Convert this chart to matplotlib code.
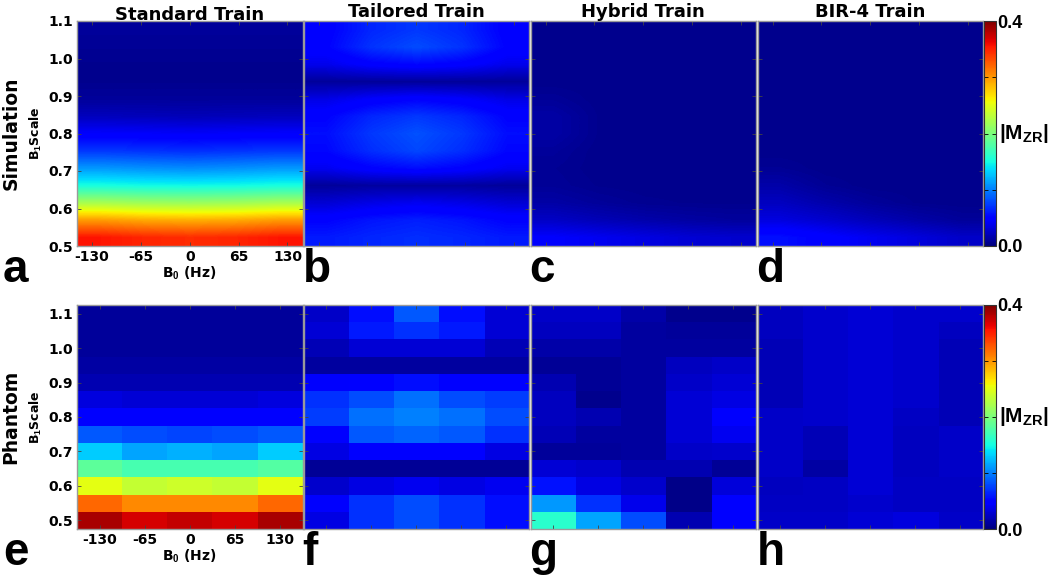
import matplotlib

matplotlib.use("Agg")
import matplotlib.pyplot as plt
import numpy as np
from matplotlib.ticker import FixedLocator

plt.rcParams["font.family"] = ["DejaVu Sans"]
plt.rcParams["font.weight"] = "bold"
plt.rcParams["axes.unicode_minus"] = False
plt.rcParams["mathtext.fontset"] = "custom"
plt.rcParams["mathtext.rm"] = "Liberation Sans:bold"
plt.rcParams["mathtext.bf"] = "Liberation Sans:bold"
plt.rcParams["mathtext.it"] = "Liberation Sans:bold"

titles = ["Standard Train", "Tailored Train", "Hybrid Train", "BIR-4 Train"]
row_names = ["Simulation", "Phantom"]
panel_letters = [["a", "b", "c", "d"], ["e", "f", "g", "h"]]
b0_ticks = [-130, -65, 0, 65, 130]
b1_ticks = [0.5, 0.6, 0.7, 0.8, 0.9, 1.0, 1.1]

# rows: B1 = 0.50, 0.55, ..., 1.10 (bottom -> top); cols: B0 samples
sim_standard = [
    [0.355, 0.348, 0.345, 0.348, 0.355],
    [0.298, 0.292, 0.290, 0.292, 0.298],
    [0.222, 0.217, 0.215, 0.217, 0.222],
    [0.152, 0.149, 0.148, 0.149, 0.152],
    [0.110, 0.107, 0.105, 0.107, 0.110],
    [0.072, 0.070, 0.068, 0.070, 0.072],
    [0.045, 0.044, 0.043, 0.044, 0.045],
    [0.022, 0.021, 0.020, 0.021, 0.022],
    [0.010, 0.010, 0.010, 0.010, 0.010],
    [0.006, 0.006, 0.006, 0.006, 0.006],
    [0.006, 0.006, 0.006, 0.006, 0.006],
    [0.008, 0.008, 0.008, 0.008, 0.008],
    [0.010, 0.010, 0.010, 0.010, 0.010],
]
sim_tailored = [
    [0.060, 0.065, 0.068, 0.065, 0.060],
    [0.050, 0.058, 0.062, 0.058, 0.050],
    [0.030, 0.036, 0.040, 0.036, 0.030],
    [0.010, 0.012, 0.012, 0.012, 0.010],
    [0.040, 0.050, 0.055, 0.050, 0.040],
    [0.052, 0.068, 0.078, 0.068, 0.052],
    [0.055, 0.072, 0.082, 0.072, 0.055],
    [0.050, 0.065, 0.072, 0.065, 0.050],
    [0.036, 0.045, 0.050, 0.045, 0.036],
    [0.010, 0.010, 0.010, 0.010, 0.010],
    [0.038, 0.048, 0.052, 0.048, 0.038],
    [0.050, 0.070, 0.080, 0.070, 0.050],
    [0.048, 0.065, 0.072, 0.065, 0.048],
]
sim_hybrid = [
    [0.045, 0.040, 0.035, 0.030, 0.028],
    [0.025, 0.020, 0.016, 0.013, 0.011],
    [0.014, 0.010, 0.007, 0.006, 0.006],
    [0.009, 0.006, 0.005, 0.005, 0.005],
    [0.008, 0.005, 0.005, 0.005, 0.005],
    [0.010, 0.005, 0.005, 0.005, 0.005],
    [0.014, 0.006, 0.005, 0.005, 0.005],
    [0.014, 0.006, 0.005, 0.005, 0.005],
    [0.009, 0.005, 0.005, 0.005, 0.005],
    [0.005, 0.005, 0.005, 0.005, 0.005],
    [0.005, 0.005, 0.005, 0.005, 0.005],
    [0.005, 0.005, 0.005, 0.005, 0.005],
    [0.005, 0.005, 0.005, 0.005, 0.005],
]
sim_bir4 = [
    [0.056, 0.048, 0.040, 0.033, 0.026],
    [0.034, 0.028, 0.021, 0.015, 0.010],
    [0.023, 0.016, 0.010, 0.006, 0.005],
    [0.015, 0.008, 0.005, 0.005, 0.005],
    [0.008, 0.005, 0.005, 0.005, 0.005],
    [0.005, 0.005, 0.005, 0.005, 0.005],
    [0.005, 0.005, 0.005, 0.005, 0.005],
    [0.005, 0.005, 0.005, 0.005, 0.005],
    [0.005, 0.005, 0.005, 0.005, 0.005],
    [0.005, 0.005, 0.005, 0.005, 0.005],
    [0.005, 0.005, 0.005, 0.005, 0.005],
    [0.005, 0.005, 0.005, 0.005, 0.005],
    [0.005, 0.005, 0.005, 0.005, 0.005],
]

# phantom: rows B1 = 0.50 ... 1.10 (bottom -> top), cols B0 = -130, -65, 0, 65, 130
ph_standard = [
    [0.385, 0.370, 0.375, 0.370, 0.385],
    [0.320, 0.305, 0.305, 0.305, 0.320],
    [0.250, 0.235, 0.240, 0.235, 0.250],
    [0.185, 0.175, 0.175, 0.175, 0.180],
    [0.130, 0.115, 0.120, 0.115, 0.130],
    [0.085, 0.080, 0.078, 0.080, 0.085],
    [0.048, 0.046, 0.046, 0.046, 0.048],
    [0.033, 0.031, 0.031, 0.031, 0.033],
    [0.018, 0.018, 0.018, 0.018, 0.018],
    [0.013, 0.013, 0.013, 0.013, 0.013],
    [0.010, 0.010, 0.010, 0.010, 0.010],
    [0.010, 0.010, 0.010, 0.010, 0.010],
    [0.010, 0.010, 0.010, 0.010, 0.010],
]
ph_tailored = [
    [0.035, 0.070, 0.080, 0.070, 0.055],
    [0.045, 0.070, 0.080, 0.070, 0.055],
    [0.028, 0.035, 0.040, 0.035, 0.040],
    [0.008, 0.008, 0.008, 0.008, 0.008],
    [0.035, 0.050, 0.050, 0.050, 0.035],
    [0.050, 0.085, 0.090, 0.085, 0.070],
    [0.075, 0.095, 0.100, 0.095, 0.080],
    [0.070, 0.080, 0.095, 0.080, 0.075],
    [0.045, 0.048, 0.055, 0.048, 0.048],
    [0.012, 0.012, 0.012, 0.012, 0.012],
    [0.020, 0.030, 0.030, 0.030, 0.020],
    [0.030, 0.060, 0.070, 0.060, 0.030],
    [0.025, 0.055, 0.085, 0.055, 0.030],
]
ph_hybrid = [
    [0.160, 0.115, 0.080, 0.018, 0.048],
    [0.110, 0.070, 0.038, 0.004, 0.050],
    [0.057, 0.035, 0.027, 0.004, 0.032],
    [0.030, 0.028, 0.018, 0.018, 0.008],
    [0.010, 0.010, 0.012, 0.025, 0.028],
    [0.020, 0.012, 0.012, 0.030, 0.040],
    [0.022, 0.018, 0.012, 0.030, 0.045],
    [0.022, 0.005, 0.012, 0.030, 0.035],
    [0.018, 0.008, 0.012, 0.025, 0.030],
    [0.008, 0.008, 0.012, 0.022, 0.025],
    [0.015, 0.015, 0.012, 0.012, 0.012],
    [0.022, 0.022, 0.012, 0.010, 0.010],
    [0.025, 0.025, 0.015, 0.005, 0.005],
]
ph_bir4 = [
    [0.026, 0.026, 0.030, 0.034, 0.026],
    [0.024, 0.024, 0.028, 0.024, 0.024],
    [0.022, 0.024, 0.030, 0.024, 0.024],
    [0.026, 0.014, 0.030, 0.022, 0.026],
    [0.026, 0.020, 0.030, 0.022, 0.026],
    [0.026, 0.020, 0.030, 0.022, 0.026],
    [0.026, 0.028, 0.030, 0.024, 0.020],
    [0.020, 0.028, 0.030, 0.028, 0.020],
    [0.020, 0.028, 0.030, 0.028, 0.020],
    [0.020, 0.028, 0.030, 0.028, 0.020],
    [0.020, 0.028, 0.030, 0.028, 0.020],
    [0.022, 0.028, 0.030, 0.028, 0.022],
    [0.022, 0.028, 0.030, 0.028, 0.028],
]

grids = [
    [sim_standard, sim_tailored, sim_hybrid, sim_bir4],
    [ph_standard, ph_tailored, ph_hybrid, ph_bir4],
]

W, H = 1050, 577
fig = plt.figure(figsize=(W / 100, H / 100), dpi=100)

col_left = [77, 303.5, 530.5, 757.5]
panel_w = 225.5
row_top = [21, 305]
panel_h = [225, 224]
frame_col = "#9a9a9a"
vmax = 0.4

for r in range(2):
    if r == 0:
        extent = (-150, 150, 0.5, 1.1)
        interp = "bilinear"
    else:
        extent = (-162.5, 162.5, 0.475, 1.125)
        interp = "nearest"
    for c in range(4):
        left = col_left[c] / W
        bottom = 1 - (row_top[r] + panel_h[r]) / H
        ax = fig.add_axes([left, bottom, panel_w / W, panel_h[r] / H])
        im = ax.imshow(
            np.array(grids[r][c]),
            origin="lower",
            aspect="auto",
            cmap="jet",
            vmin=0,
            vmax=vmax,
            extent=extent,
            interpolation=interp,
        )
        ax.set_xlim(extent[0], extent[1])
        ax.set_ylim(extent[2], extent[3])
        ax.set_xticks(b0_ticks)
        ax.set_yticks(b1_ticks)
        ax.tick_params(direction="in", length=3, width=0.6, color="#444444",
                       top=True, right=True, labelsize=10, pad=3)
        for sp in ax.spines.values():
            sp.set_color(frame_col)
            sp.set_linewidth(1.0)
        if c == 0:
            ax.set_xticklabels([str(t) for t in b0_ticks], fontweight="bold")
            ax.set_yticklabels([f"{t:.1f}" for t in b1_ticks], fontweight="bold")
            ax.set_xlabel(r"B$_0$ (Hz)", fontsize=10, fontweight="bold", labelpad=0)
            ax.set_ylabel(r"B$_1$Scale", fontsize=9, fontweight="bold", labelpad=3)
        else:
            ax.set_xticklabels([])
            ax.set_yticklabels([])
        if r == 0:
            ax.set_title(titles[c], fontsize=13, fontweight="bold", pad=1)
        # panel letter below the axes
        lx = (3 if c == 0 else col_left[c] - 1) / W
        ly = 1 - (row_top[r] + panel_h[r] + 36) / H
        fig.text(lx, ly, panel_letters[r][c], fontsize=33, fontweight="bold",
                 family="Liberation Sans", ha="left", va="baseline")

    # row label
    fig.text(11 / W, 1 - (row_top[r] + panel_h[r] / 2) / H, row_names[r],
             rotation=90, fontsize=13.5, fontweight="bold", ha="center", va="center")

    # colorbar
    cax = fig.add_axes([984 / W, 1 - (row_top[r] + panel_h[r]) / H, 12 / W, panel_h[r] / H])
    cb = fig.colorbar(im, cax=cax, ticks=[0.0, 0.4])
    cb.ax.set_yticklabels(["0.0", "0.4"], fontsize=13, fontweight="bold",
                          family="Liberation Sans")
    cb.ax.yaxis.set_minor_locator(FixedLocator([0.1, 0.2, 0.3]))
    cb.ax.tick_params(which="both", direction="in", length=3, width=0.6, pad=1,
                      left=True, right=True)
    cb.outline.set_linewidth(0.8)
    cb.outline.set_edgecolor("#333333")
    fig.text(999 / W, 1 - (row_top[r] + panel_h[r] / 2) / H, r"$|\mathbf{M_{ZR}}|$",
             fontsize=15, ha="left", va="center")

fig.savefig("out.png", dpi=100, facecolor="white")
